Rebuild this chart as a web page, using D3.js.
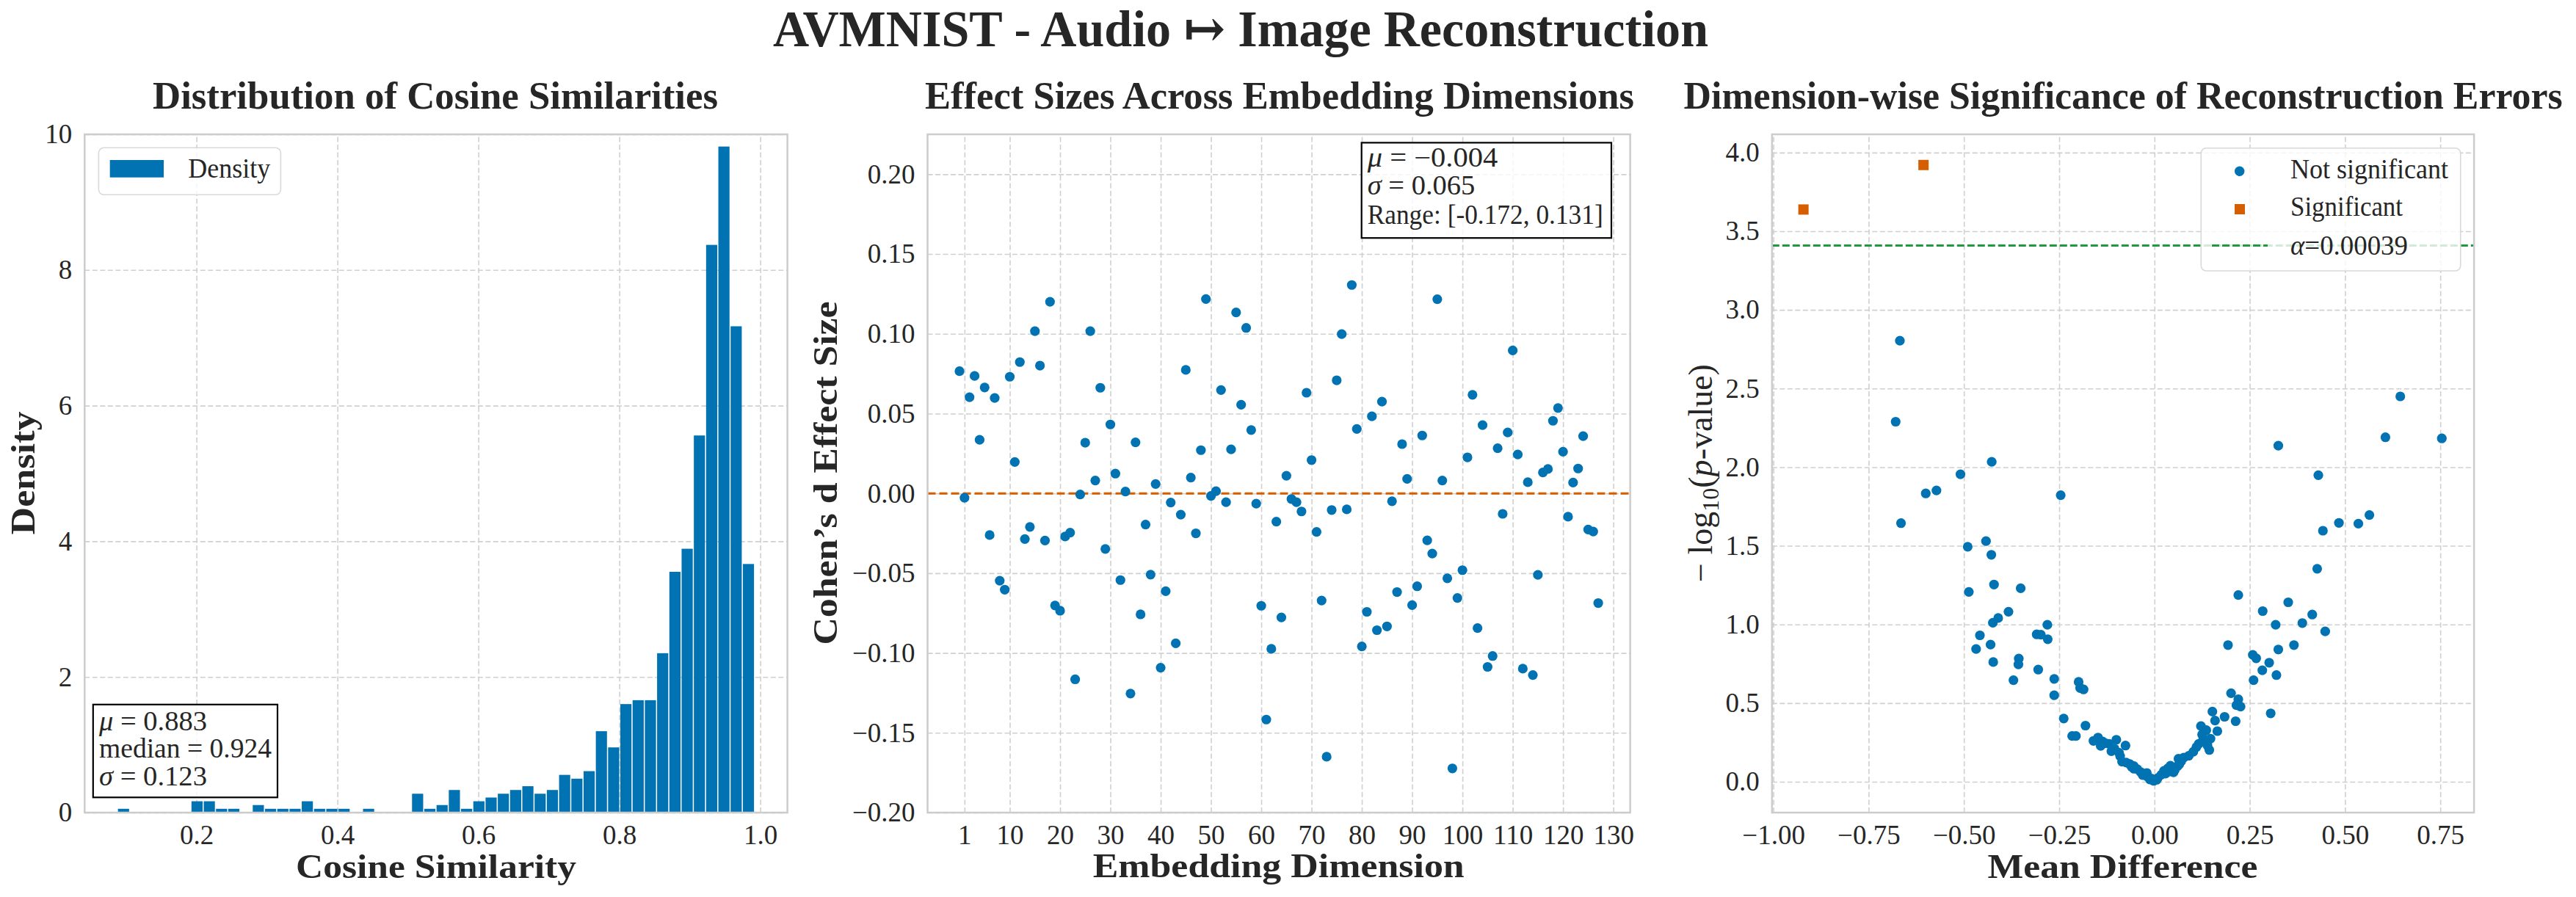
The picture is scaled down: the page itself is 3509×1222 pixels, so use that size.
<!DOCTYPE html>
<html>
<head>
<meta charset="utf-8">
<script src="https://cdn.jsdelivr.net/npm/d3@7"></script>
<style>
  html, body { margin: 0; padding: 0; background: #ffffff; }
  svg { display: block; }
</style>
</head>
<body>
<script>
// ---------------- DATA ----------------
const suptitle = "AVMNIST - Audio \u21A6 Image Reconstruction";
const panelTitles = ["Distribution of Cosine Similarities",
                     "Effect Sizes Across Embedding Dimensions",
                     "Dimension-wise Significance of Reconstruction Errors"];

// Panel 1: histogram (density), 52 equal bins
const histEdgeMin = 0.0878;
const histEdgeMax = 0.9919;
const histDensity = [
  0.056, 0, 0, 0, 0, 0, 0.167, 0.167, 0.056, 0.056,
  0, 0.111, 0.056, 0.056, 0.056, 0.167, 0.056, 0.056, 0.056, 0,
  0.056, 0, 0, 0, 0.278, 0.056, 0.111, 0.333, 0.056, 0.167,
  0.222, 0.278, 0.333, 0.389, 0.278, 0.333, 0.556, 0.500, 0.611, 1.20,
  0.961, 1.60, 1.657, 1.657, 2.35, 3.55, 3.89, 5.56, 8.37, 9.82,
  7.17, 3.665
];
const histXTicks = [0.2, 0.4, 0.6, 0.8, 1.0];
const histYTicks = [0, 2, 4, 6, 8, 10];
const histStats = ["0.883", "0.924", "0.123"];

// Panel 2: Cohen's d per embedding dimension (dims 0..127)
const cohenD = [
  0.0766, -0.0027, 0.0603, 0.0736, 0.0336, 0.0664, -0.0261, 0.0598, -0.0547, -0.0603,
  0.0731, 0.0197, 0.0823, -0.0286, -0.0210, 0.1017, 0.0801, -0.0295, 0.1201, -0.0702,
  -0.0735, -0.0270, -0.0246, -0.1165, -0.0007, 0.0318, 0.1017, 0.0081, 0.0662, -0.0348,
  0.0432, 0.0124, -0.0543, 0.0012, -0.1254, 0.0320, -0.0758, -0.0195, -0.0509, 0.0059,
  -0.1092, -0.0613, -0.0057, -0.0939, -0.0133, 0.0774, 0.0099, -0.0250, 0.0271, 0.1218,
  -0.0016, 0.0014, 0.0648, -0.0055, 0.0276, 0.1134, 0.0556, 0.1037, 0.0397, -0.0064,
  -0.0704, -0.1417, -0.0974, -0.0177, -0.0777, 0.0111, -0.0035, -0.0055, -0.0113, 0.0631,
  0.0209, -0.0241, -0.0671, -0.1650, -0.0104, 0.0709, 0.0998, -0.0100, 0.1306, 0.0404,
  -0.0959, -0.0742, 0.0483, -0.0857, 0.0575, -0.0833, -0.0049, -0.0618, 0.0309, 0.0091,
  -0.0700, -0.0582, 0.0363, -0.0294, -0.0377, 0.1217, 0.0081, -0.0532, -0.1723, -0.0655,
  -0.0481, 0.0226, 0.0618, -0.0844, 0.0428, -0.1087, -0.1019, 0.0283, -0.0128, 0.0382,
  0.0896, 0.0244, -0.1098, 0.0070, -0.1138, -0.0510, 0.0131, 0.0153, 0.0455, 0.0535,
  0.0261, -0.0146, 0.0068, 0.0156, 0.0359, -0.0226, -0.0239, -0.0687
];
const cohenXTicks = [1, 10, 20, 30, 40, 50, 60, 70, 80, 90, 100, 110, 120, 130];
const cohenYTicks = [-0.20, -0.15, -0.10, -0.05, 0.00, 0.05, 0.10, 0.15, 0.20];
const cohenStats = ["\u22120.004", "0.065", "[-0.172, 0.131]"];

// Panel 3: volcano plot
const nsMeanDiff = [
  -0.668, -0.679, 0.325, 0.645, 0.606, 0.754, -0.427, -0.509, 0.430, -0.600, -0.572, -0.246,
  -0.665, -0.490, -0.442, -0.428, 0.442, 0.484, 0.535, 0.564, 0.427, -0.487,
  -0.421, -0.351, 0.220, 0.351, -0.383, -0.410, -0.424, -0.281, 0.284, 0.414,
  0.388, 0.318, 0.448, -0.458, -0.309, -0.298, -0.280, -0.468, -0.430, 0.193,
  0.366, 0.325, 0.258, 0.267, 0.301, -0.356, -0.357, -0.423, -0.305, 0.283,
  0.320, -0.370, -0.263, 0.260, -0.199, -0.195, -0.186, -0.263, 0.201, 0.220,
  0.215, 0.226, 0.305, 0.152, -0.238, 0.184, 0.159, 0.213, -0.181, 0.122,
  0.136, 0.165, -0.216, -0.206, -0.148, -0.100, 0.147, 0.128, -0.136, -0.119,
  -0.076, 0.116, -0.141, 0.139, 0.144, -0.113, -0.093, 0.102, -0.090, 0.077,
  0.063, -0.085, -0.074, -0.065, 0.065, -0.054, 0.042, 0.060, -0.054, 0.053,
  0.025, 0.039, -0.036, -0.020, 0.029, -0.031, -0.019, 0.009, -0.008, -0.012,
  -0.002, 0.006, -0.128, -0.105, 0.018, 0.035, 0.070, 0.090, 0.110, -0.045,
  -0.160, 0.125, -0.060, 0.050
];
const nsNegLogP = [
  2.804, 2.289, 2.137, 2.450, 2.190, 2.183, 2.034, 1.955, 1.949, 1.833, 1.852, 1.822,
  1.644, 1.494, 1.530, 1.443, 1.596, 1.646, 1.641, 1.696, 1.354, 1.207,
  1.254, 1.230, 1.187, 1.141, 1.081, 1.041, 1.011, 0.998, 1.085, 1.063,
  1.009, 0.998, 0.956, 0.931, 0.937, 0.935, 0.906, 0.844, 0.872, 0.869,
  0.869, 0.841, 0.807, 0.785, 0.757, 0.783, 0.746, 0.761, 0.713, 0.709,
  0.678, 0.646, 0.654, 0.646, 0.635, 0.596, 0.587, 0.550, 0.563, 0.524,
  0.487, 0.478, 0.435, 0.446, 0.402, 0.413, 0.389, 0.385, 0.357, 0.354,
  0.328, 0.322, 0.291, 0.291, 0.281, 0.267, 0.274, 0.270, 0.256, 0.241,
  0.230, 0.241, 0.228, 0.231, 0.202, 0.194, 0.185, 0.191, 0.163, 0.154,
  0.146, 0.128, 0.122, 0.113, 0.111, 0.100, 0.102, 0.098, 0.083, 0.074,
  0.069, 0.065, 0.061, 0.056, 0.052, 0.043, 0.033, 0.024, 0.020, 0.015,
  0.006, 0.013, 0.245, 0.210, 0.045, 0.085, 0.130, 0.165, 0.220, 0.080,
  0.260, 0.300, 0.095, 0.060
];
const sigMeanDiff = [-0.921, -0.606];
const sigNegLogP = [3.638, 3.921];
const alphaValue = 0.00039;
const volXTicks = [-1.00, -0.75, -0.50, -0.25, 0.00, 0.25, 0.50, 0.75];
const volYTicks = [0.0, 0.5, 1.0, 1.5, 2.0, 2.5, 3.0, 3.5, 4.0];
const legendLabels = ["Not significant", "Significant", "\u03B1=0.00039"];

// ---------------- STYLE ----------------
const W = 3509, H = 1222;
const FONT = "'Liberation Serif', 'DejaVu Serif', serif";
const TXT = "#262626";
const BLUE = "#0173b2";
const ORANGE = "#d55e00";
const GREEN = "#1f9a3f";
const GRID = "#d0d0d0";
const SPINE = "#cccccc";
const TICK_FS = 37;
const LABEL_FS = 46;
const TITLE_FS = 52;

const svg = d3.select("body").append("svg")
  .attr("width", W).attr("height", H)
  .attr("font-family", FONT);
svg.append("rect").attr("width", W).attr("height", H).attr("fill", "#fff");

function addText(g, x, y, str, o = {}) {
  const t = g.append("text").attr("x", x).attr("y", y)
    .attr("fill", o.fill || TXT)
    .attr("font-size", o.fs || TICK_FS)
    .attr("font-weight", o.bold ? "bold" : "normal")
    .attr("text-anchor", o.anchor || "start")
    .text(str);
  if (o.len) t.attr("textLength", o.len).attr("lengthAdjust", "spacingAndGlyphs");
  if (o.rotate) t.attr("transform", `rotate(-90,${x},${y})`);
  return t;
}
// text with an italic math symbol in front
function mathText(x, y, sym, rest, len) {
  const t = svg.append("text").attr("x", x).attr("y", y).attr("fill", TXT).attr("font-size", TICK_FS);
  t.append("tspan").attr("font-style", "italic").text(sym);
  t.append("tspan").text(rest);
  if (len) t.attr("textLength", len).attr("lengthAdjust", "spacingAndGlyphs");
  return t;
}

function frame(L, R, T, B) { return { L, R, T, B }; }
const P = [frame(115.3, 1072.6, 183, 1107), frame(1263.5, 2220.6, 183, 1107), frame(2413.8, 3370.1, 183, 1107)];

function drawAxes(f, x, y, xt, yt, xf, yf) {
  const g = svg.append("g");
  const gx = g.append("g").attr("transform", `translate(0,${f.B})`)
    .call(d3.axisBottom(x).tickValues(xt).tickFormat(xf).tickSize(-(f.B - f.T)).tickPadding(0));
  const gy = g.append("g").attr("transform", `translate(${f.L},0)`)
    .call(d3.axisLeft(y).tickValues(yt).tickFormat(yf).tickSize(-(f.R - f.L)).tickPadding(17));
  [gx, gy].forEach(a => {
    a.select(".domain").remove();
    a.attr("font-family", FONT).attr("font-size", TICK_FS);
    a.selectAll(".tick line").attr("stroke", GRID).attr("stroke-width", 1.6).attr("stroke-dasharray", "7,3.5");
    a.selectAll(".tick text").attr("fill", TXT);
  });
  gx.selectAll(".tick text").attr("y", 43).attr("dy", null);
  return g;
}
function drawSpines(f) {
  svg.append("rect").attr("x", f.L).attr("y", f.T).attr("width", f.R - f.L).attr("height", f.B - f.T)
    .attr("fill", "none").attr("stroke", SPINE).attr("stroke-width", 2.5);
}

// ---------------- TITLES ----------------
addText(svg, 1053, 63, suptitle, { fs: 70, bold: true, len: 1274 });
addText(svg, 208, 148, panelTitles[0], { fs: TITLE_FS, bold: true, len: 770 });
addText(svg, 1260, 148, panelTitles[1], { fs: TITLE_FS, bold: true, len: 966 });
addText(svg, 2293.6, 148, panelTitles[2], { fs: TITLE_FS, bold: true, len: 1197 });

// ---------------- PANEL 1 ----------------
{
  const f = P[0];
  const x = d3.scaleLinear().domain([0.0413, 1.0385]).range([f.L, f.R]);
  const y = d3.scaleLinear().domain([0, 10]).range([f.B, f.T]);
  drawAxes(f, x, y, histXTicks, histYTicks, d3.format(".1f"), d3.format("d"));
  const bw = (histEdgeMax - histEdgeMin) / histDensity.length;
  const bins = histDensity.map((d, i) => ({ x0: histEdgeMin + i * bw, x1: histEdgeMin + (i + 1) * bw, d }));
  svg.append("g").selectAll("rect").data(bins.filter(b => b.d > 0)).join("rect")
    .attr("x", b => x(b.x0) + 0.75)
    .attr("width", b => x(b.x1) - x(b.x0) - 1.5)
    .attr("y", b => y(b.d))
    .attr("height", b => y(0) - y(b.d))
    .attr("fill", BLUE);
  drawSpines(f);
  // legend
  svg.append("rect").attr("x", 134.4).attr("y", 201.3).attr("width", 248).attr("height", 64)
    .attr("rx", 7).attr("fill", "#fff").attr("fill-opacity", 0.8).attr("stroke", "#d9d9d9").attr("stroke-width", 1.6);
  svg.append("rect").attr("x", 149.7).attr("y", 218).attr("width", 73.3).attr("height", 23.7).attr("fill", BLUE);
  addText(svg, 256.2, 241.7, "Density", { len: 112 });
  // stats box
  svg.append("rect").attr("x", 126.8).attr("y", 959.8).attr("width", 251.2).attr("height", 126.5)
    .attr("fill", "#fff").attr("fill-opacity", 0.8).attr("stroke", "#000").attr("stroke-width", 2.2);
  mathText(135, 994.7, "\u03BC", " = " + histStats[0], 147);
  addText(svg, 135, 1031.6, "median = " + histStats[1], { len: 235 });
  mathText(135, 1070, "\u03C3", " = " + histStats[2], 147);
  // axis labels
  addText(svg, 594, 1196, "Cosine Similarity", { fs: LABEL_FS, bold: true, anchor: "middle", len: 382 });
  addText(svg, 46.7, 644.5, "Density", { fs: LABEL_FS, bold: true, anchor: "middle", rotate: true, len: 168 });
}

// ---------------- PANEL 2 ----------------
{
  const f = P[1];
  const x = d3.scaleLinear().domain([-6.35, 133.35]).range([f.L, f.R]);
  const y = d3.scaleLinear().domain([-0.2, 0.225]).range([f.B, f.T]);
  drawAxes(f, x, y, cohenXTicks, cohenYTicks, d3.format("d"), d3.format(".2f"));
  svg.append("line").attr("x1", f.L).attr("x2", f.R).attr("y1", y(0)).attr("y2", y(0))
    .attr("stroke", ORANGE).attr("stroke-width", 3).attr("stroke-dasharray", "11,5");
  svg.append("g").selectAll("circle").data(cohenD).join("circle")
    .attr("cx", (d, i) => x(i)).attr("cy", d => y(d)).attr("r", 6.6).attr("fill", BLUE);
  drawSpines(f);
  // stats box
  svg.append("rect").attr("x", 1854.7).attr("y", 194.4).attr("width", 340.3).attr("height", 129.8)
    .attr("fill", "#fff").attr("fill-opacity", 0.8).attr("stroke", "#000").attr("stroke-width", 2.2);
  mathText(1862.7, 226.8, "\u03BC", " = " + cohenStats[0], 177.5);
  mathText(1862.7, 264.7, "\u03C3", " = " + cohenStats[1], 146.7);
  addText(svg, 1862.7, 304.6, "Range: " + cohenStats[2], { len: 321 });
  addText(svg, 1741.7, 1195, "Embedding Dimension", { fs: LABEL_FS, bold: true, anchor: "middle", len: 506 });
  addText(svg, 1139.5, 644.5, "Cohen\u2019s d Effect Size", { fs: LABEL_FS, bold: true, anchor: "middle", rotate: true, len: 468 });
}

// ---------------- PANEL 3 ----------------
{
  const f = P[2];
  const x = d3.scaleLinear().domain([-1.0035, 0.8385]).range([f.L, f.R]);
  const y = d3.scaleLinear().domain([-0.196, 4.116]).range([f.B, f.T]);
  drawAxes(f, x, y, volXTicks, volYTicks, d3.format(".2f"), d3.format(".1f"));
  const ns = nsMeanDiff.map((v, i) => [v, nsNegLogP[i]]);
  svg.append("g").selectAll("circle").data(ns).join("circle")
    .attr("cx", d => x(d[0])).attr("cy", d => y(d[1])).attr("r", 6.6).attr("fill", BLUE);
  const sg = sigMeanDiff.map((v, i) => [v, sigNegLogP[i]]);
  svg.append("g").selectAll("rect").data(sg).join("rect")
    .attr("x", d => x(d[0]) - 7).attr("y", d => y(d[1]) - 7).attr("width", 14).attr("height", 14).attr("fill", ORANGE);
  const ay = y(-Math.log10(alphaValue));
  svg.append("line").attr("x1", f.L).attr("x2", f.R).attr("y1", ay).attr("y2", ay)
    .attr("stroke", GREEN).attr("stroke-width", 3).attr("stroke-dasharray", "10,4");
  drawSpines(f);
  // legend
  svg.append("rect").attr("x", 2998.3).attr("y", 201.7).attr("width", 353.4).attr("height", 167.3)
    .attr("rx", 7).attr("fill", "#fff").attr("fill-opacity", 0.8).attr("stroke", "#d9d9d9").attr("stroke-width", 1.6);
  svg.append("circle").attr("cx", 3050.7).attr("cy", 233.3).attr("r", 6.7).attr("fill", BLUE);
  svg.append("rect").attr("x", 3044).attr("y", 278).attr("width", 14).attr("height", 14).attr("fill", ORANGE);
  svg.append("line").attr("x1", 3013).attr("x2", 3089).attr("y1", 334.4).attr("y2", 334.4)
    .attr("stroke", GREEN).attr("stroke-width", 3).attr("stroke-dasharray", "10,4");
  addText(svg, 3120, 243.3, legendLabels[0], { len: 215 });
  addText(svg, 3120, 294, legendLabels[1], { len: 153 });
  mathText(3120, 347.3, legendLabels[2].slice(0, 1), legendLabels[2].slice(1), 160);
  // axis labels
  addText(svg, 2891.5, 1196, "Mean Difference", { fs: LABEL_FS, bold: true, anchor: "middle", len: 368 });
  const yl = svg.append("text").attr("x", 2331.7).attr("y", 644.5)
    .attr("transform", "rotate(-90,2331.7,644.5)")
    .attr("text-anchor", "middle").attr("font-size", LABEL_FS).attr("fill", TXT);
  yl.append("tspan").text("\u2212 log");
  yl.append("tspan").attr("font-size", 32).attr("dy", 9).text("10");
  yl.append("tspan").attr("dy", -9).text("(");
  yl.append("tspan").attr("font-style", "italic").text("p");
  yl.append("tspan").text("-value)");
}
</script>
</body>
</html>
